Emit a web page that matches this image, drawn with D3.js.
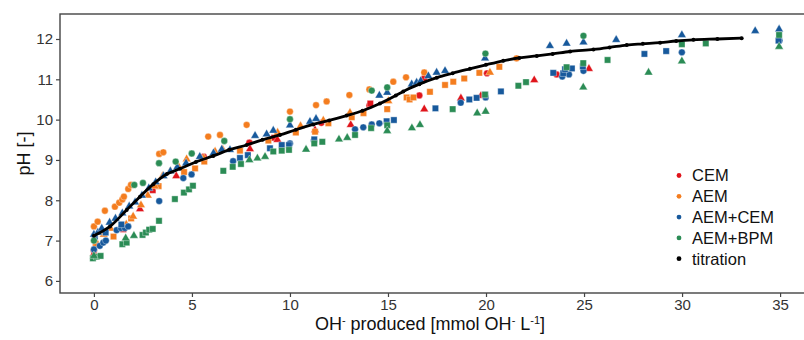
<!DOCTYPE html>
<html>
<head>
<meta charset="utf-8">
<script src="https://cdn.jsdelivr.net/npm/d3@7"></script>
<style>
  body { margin: 0; background: #fff; }
  svg { display: block; font-family: "Liberation Sans", Arial, sans-serif; }
</style>
</head>
<body>
<div id="chart"></div>
<script>
// Values: [OH- produced, pH]
const cemCircle = [[0, 6.75], [5.6, 9.08], [7.93, 9.43], [11.6, 9.92], [14.05, 10.35], [16.6, 10.6], [16.84, 11.02], [20.05, 11.15], [23.6, 11.12]];
const cemSquare = [[0.1, 6.9], [1.5, 7.28], [3.0, 8.25], [9.2, 9.55], [14.1, 10.4]];
const cemTriangle = [[0, 6.68], [2.35, 7.78], [4.2, 8.6], [7.96, 9.27], [9.36, 9.5], [11.28, 9.74], [13.1, 9.87], [16.85, 10.26], [18.72, 10.53], [19.74, 10.59], [22.46, 10.98], [25.25, 11.26]];

const aemCircle = [[0, 7.35], [0.19, 7.47], [0.56, 7.74], [1.07, 7.84], [1.29, 7.94], [1.45, 8.02], [1.53, 8.09], [1.75, 8.28], [1.89, 8.38], [3.33, 9.15], [3.54, 9.19], [5.83, 9.58], [6.43, 9.62], [7.79, 9.87], [10.0, 10.2], [11.33, 10.36], [11.87, 10.45], [13.03, 10.61], [14.05, 10.75], [15.27, 10.94], [15.92, 11.05], [16.85, 11.17], [21.56, 11.52]];
const aemSquare = [[0.1, 6.92], [1.0, 7.1], [1.9, 7.55], [3.3, 8.35], [4.6, 8.7], [5.16, 8.79], [5.63, 8.96], [7.45, 9.23], [8.9, 9.48], [10.3, 9.68], [11.28, 9.7], [11.96, 9.91], [13.15, 10.06], [13.75, 10.16], [14.96, 10.26], [15.95, 10.55], [16.1, 10.5], [16.3, 10.55], [17.14, 10.69], [17.91, 10.86], [18.33, 10.94], [18.89, 11.02], [19.66, 11.16], [20.68, 11.31]];
const aemTriangle = [[0.05, 7.0], [0.5, 7.15], [0.85, 7.3], [1.35, 7.3], [1.65, 7.4], [2.0, 7.6], [2.4, 7.88], [2.75, 8.12], [3.1, 8.35], [3.5, 8.6], [3.9, 8.72], [4.3, 8.85], [4.73, 9.02], [5.6, 9.05], [6.18, 9.21], [6.57, 9.26], [9.37, 9.68], [10.54, 9.84], [11.7, 9.98], [13.06, 10.17], [15.02, 10.46], [20.2, 11.17]];

const aemCemCircle = [[0, 6.78], [0.3, 6.87], [0.48, 6.95], [0.61, 7.0], [1.16, 7.26], [1.38, 7.31], [1.58, 7.31], [1.75, 7.35], [3.33, 7.98], [4.56, 8.55], [4.98, 8.64], [7.1, 8.97], [10.0, 9.41], [11.22, 9.48], [13.32, 9.76], [13.74, 9.81], [14.17, 9.88], [14.56, 9.91], [18.71, 10.42], [19.98, 10.55], [23.89, 11.07], [24.23, 11.12], [24.97, 11.21], [29.99, 11.67], [34.97, 11.96]];
const aemCemSquare = [[0.05, 7.1], [0.6, 7.2], [1.4, 7.4], [7.45, 9.05], [7.85, 9.12], [8.98, 9.29], [9.58, 9.37], [9.95, 9.37], [11.24, 9.51], [14.93, 9.96], [15.3, 9.99], [17.42, 10.28], [19.15, 10.5], [19.52, 10.54], [19.95, 10.62], [20.76, 10.7], [23.43, 11.16], [23.94, 11.15], [24.03, 11.25], [24.38, 11.27], [24.94, 11.32], [28.08, 11.63], [29.19, 11.7], [34.92, 11.96]];
const aemCemTriangle = [[0, 7.15], [0.2, 7.2], [0.4, 7.3], [0.8, 7.45], [1.1, 7.55], [1.45, 7.68], [1.8, 7.85], [2.1, 7.95], [2.45, 8.12], [2.8, 8.3], [3.15, 8.45], [3.55, 8.6], [3.9, 8.72], [4.25, 8.82], [4.7, 8.92], [5.4, 9.08], [6.1, 9.17], [6.52, 9.26], [6.94, 9.25], [8.22, 9.6], [8.81, 9.64], [9.15, 9.73], [10.0, 9.86], [11.02, 9.95], [11.33, 10.02], [14.56, 10.6], [14.96, 10.67], [16.21, 10.88], [16.46, 10.92], [16.67, 10.96], [17.06, 11.08], [17.48, 11.17], [17.91, 11.21], [19.95, 11.52], [23.26, 11.83], [24.11, 11.89], [24.97, 11.92], [26.64, 11.98], [29.99, 12.1], [33.73, 12.2], [34.95, 12.24]];

const aemBpmCircle = [[0, 7.0], [2.06, 8.38], [2.5, 8.43], [3.32, 8.92], [4.17, 8.96], [4.99, 9.16], [6.65, 9.47], [10.0, 10.01], [14.17, 10.72], [14.96, 10.8], [19.97, 11.64], [24.97, 12.08]];
const aemBpmSquare = [[-0.05, 6.56], [0.14, 6.6], [0.34, 6.62], [1.45, 6.91], [1.67, 6.95], [2.48, 7.14], [2.65, 7.2], [2.82, 7.27], [3.0, 7.29], [3.32, 7.49], [4.13, 8.03], [4.59, 8.19], [4.85, 8.27], [5.05, 8.36], [6.6, 8.73], [7.08, 8.83], [7.5, 8.9], [9.15, 9.21], [9.58, 9.23], [9.95, 9.25], [11.24, 9.41], [11.65, 9.45], [13.32, 9.62], [14.14, 9.79], [14.96, 9.86], [18.3, 10.26], [19.95, 10.62], [21.65, 10.84], [22.04, 10.93], [24.11, 11.3], [24.96, 11.4], [26.2, 11.48], [29.99, 11.87], [31.21, 11.89], [34.95, 12.1]];
const aemBpmTriangle = [[0, 6.62], [1.62, 7.06], [2.04, 7.12], [7.93, 9.0], [8.34, 9.04], [8.73, 9.08], [10.82, 9.26], [12.5, 9.51], [12.92, 9.55], [14.96, 9.72], [16.22, 9.79], [16.63, 9.87], [19.55, 10.16], [19.98, 10.2], [24.96, 10.8], [28.29, 11.17], [29.99, 11.45], [34.95, 11.81]];

const titration = [[0, 7.12], [0.82, 7.35], [1.67, 7.76], [2.35, 8.09], [3.03, 8.4], [3.72, 8.65], [4.39, 8.78], [5.2, 8.95], [6.09, 9.1], [6.9, 9.25], [7.79, 9.37], [8.6, 9.5], [9.49, 9.62], [10.3, 9.75], [11.19, 9.88], [12.0, 9.98], [12.89, 10.1], [13.7, 10.22], [14.59, 10.4], [15.4, 10.6], [15.78, 10.7], [16.6, 10.88], [17.49, 11.04], [18.3, 11.15], [19.18, 11.26], [20.0, 11.36], [20.88, 11.46], [21.7, 11.53], [22.59, 11.58], [23.4, 11.63], [24.29, 11.69], [25.48, 11.74], [26.3, 11.79], [27.18, 11.85], [28.0, 11.88], [28.88, 11.91], [29.7, 11.95], [30.58, 11.98], [31.8, 12.0], [33.04, 12.02]];

const legendLabels = ["CEM", "AEM", "AEM+CEM", "AEM+BPM", "titration"];
const xTicks = [0, 5, 10, 15, 20, 25, 30, 35];
const yTicks = [6, 7, 8, 9, 10, 11, 12];

const colors = {
  CEM: "#e0141b",
  AEM: "#f47d1f",
  "AEM+CEM": "#17599c",
  "AEM+BPM": "#2b8c55",
  titration: "#000000",
};

// Scatter groups (series x replicate shape)
const groups = [
  { key: "CEM", shape: d3.symbolCircle, data: cemCircle },
  { key: "CEM", shape: d3.symbolSquare, data: cemSquare },
  { key: "CEM", shape: d3.symbolTriangle, data: cemTriangle },
  { key: "AEM", shape: d3.symbolCircle, data: aemCircle },
  { key: "AEM", shape: d3.symbolSquare, data: aemSquare },
  { key: "AEM", shape: d3.symbolTriangle, data: aemTriangle },
  { key: "AEM+CEM", shape: d3.symbolCircle, data: aemCemCircle },
  { key: "AEM+CEM", shape: d3.symbolSquare, data: aemCemSquare },
  { key: "AEM+CEM", shape: d3.symbolTriangle, data: aemCemTriangle },
  { key: "AEM+BPM", shape: d3.symbolCircle, data: aemBpmCircle },
  { key: "AEM+BPM", shape: d3.symbolSquare, data: aemBpmSquare },
  { key: "AEM+BPM", shape: d3.symbolTriangle, data: aemBpmTriangle },
];

const config = {
  width: 804,
  height: 340,
  panel: { left: 60, top: 14, right: 814, bottom: 293 },
};

const { width, height, panel } = config;

const svg = d3
  .select("#chart")
  .append("svg")
  .attr("width", width)
  .attr("height", height);

// Scales
const x = d3.scaleLinear().domain([-1.73, 36.73]).range([panel.left, panel.right]);
const y = d3.scaleLinear().domain([5.7, 12.62]).range([panel.bottom, panel.top]);

const symbolSize = new Map([
  [d3.symbolCircle, 36],
  [d3.symbolSquare, 40],
  [d3.symbolTriangle, 32],
]);

// Points
groups.forEach((grp) => {
  svg
    .append("g")
    .selectAll("path")
    .data(grp.data)
    .enter()
    .append("path")
    .attr("transform", (d) => `translate(${x(d[0])},${y(d[1])})`)
    .attr("d", d3.symbol().type(grp.shape).size(symbolSize.get(grp.shape)))
    .attr("fill", colors[grp.key])
    .attr("stroke", "#ffffff")
    .attr("stroke-opacity", 0.6)
    .attr("stroke-width", 0.6);
});

// Titration line with small points
svg
  .append("path")
  .datum(titration)
  .attr("fill", "none")
  .attr("stroke", "#000")
  .attr("stroke-width", 2.8)
  .attr("stroke-linejoin", "round")
  .attr("d", d3.line().x((d) => x(d[0])).y((d) => y(d[1])).curve(d3.curveMonotoneX));

svg
  .append("g")
  .selectAll("circle")
  .data(titration)
  .enter()
  .append("circle")
  .attr("cx", (d) => x(d[0]))
  .attr("cy", (d) => y(d[1]))
  .attr("r", 2)
  .attr("fill", "#000");

// Panel border
svg
  .append("rect")
  .attr("x", panel.left)
  .attr("y", panel.top)
  .attr("width", panel.right - panel.left)
  .attr("height", panel.bottom - panel.top)
  .attr("fill", "none")
  .attr("stroke", "#444")
  .attr("stroke-width", 1.4);

// Axes
const xAxis = svg
  .append("g")
  .attr("transform", `translate(0,${panel.bottom})`)
  .call(d3.axisBottom(x).tickValues(xTicks).tickFormat(d3.format("d")).tickSize(4).tickPadding(2));

const yAxis = svg
  .append("g")
  .attr("transform", `translate(${panel.left},0)`)
  .call(d3.axisLeft(y).tickValues(yTicks).tickFormat(d3.format("d")).tickSize(4).tickPadding(3));

[xAxis, yAxis].forEach((ax) => {
  ax.select(".domain").remove();
  ax.selectAll("line").attr("stroke", "#444").attr("stroke-width", 1.2);
  ax.selectAll("text")
    .attr("fill", "#333")
    .style("font-size", "15px")
    .style("font-family", '"Liberation Sans", Arial, sans-serif');
});

// Axis titles
const xTitle = svg
  .append("text")
  .attr("x", 430)
  .attr("y", 329.5)
  .attr("text-anchor", "middle")
  .attr("fill", "#111")
  .style("font-size", "18px");
xTitle.append("tspan").text("OH");
xTitle.append("tspan").attr("baseline-shift", "super").style("font-size", "11px").text("-");
xTitle.append("tspan").text(" produced [mmol OH");
xTitle.append("tspan").attr("baseline-shift", "super").style("font-size", "11px").text("-");
xTitle.append("tspan").text(" L");
xTitle.append("tspan").attr("baseline-shift", "super").style("font-size", "11px").text("-1");
xTitle.append("tspan").text("]");

svg
  .append("text")
  .attr("transform", `translate(30,${(panel.top + panel.bottom) / 2}) rotate(-90)`)
  .attr("text-anchor", "middle")
  .attr("fill", "#111")
  .style("font-size", "18px")
  .text("pH [-]");

// Legend
const legend = svg
  .append("g")
  .selectAll("g")
  .data(legendLabels)
  .enter()
  .append("g")
  .attr("transform", (d, i) => `translate(679,${175.5 + i * 20.8})`);

legend.append("circle").attr("r", 2.4).attr("fill", (d) => colors[d]);

legend
  .append("text")
  .attr("x", 13)
  .attr("dy", "0.36em")
  .attr("fill", "#111")
  .style("font-size", "16.5px")
  .text((d) => d);
</script>
</body>
</html>
